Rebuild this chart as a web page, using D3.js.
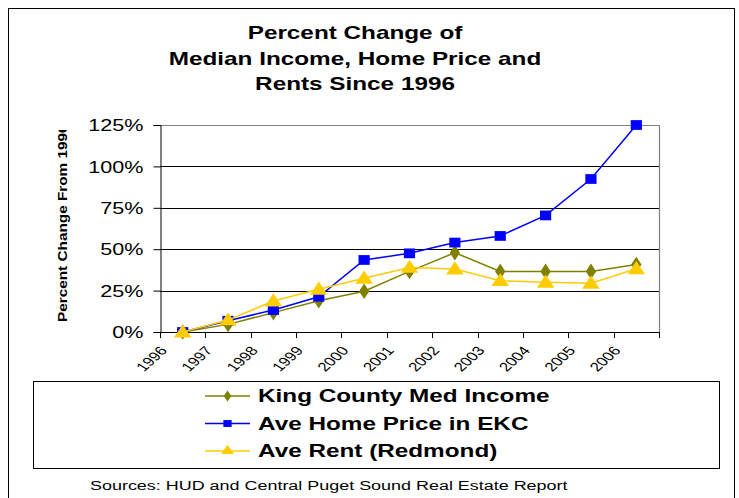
<!DOCTYPE html>
<html lang="en">
<head>
<meta charset="UTF-8">
<title>Percent Change Since 1996</title>
<script src="https://d3js.org/d3.v7.min.js"></script>
<style>
  body { margin: 0; background: #fff; }
  svg text { font-family: "Liberation Sans", Arial, sans-serif; fill: #000; }
  .title { font-size: 18px; font-weight: bold; }
  .ytick text { font-size: 16px; }
  .xtick text { font-size: 12.5px; }
  .legend text { font-size: 18px; font-weight: bold; }
</style>
</head>
<body>
<script>
const years = ["1996","1997","1998","1999","2000","2001","2002","2003","2004","2005","2006"];
const yTicks = [0, 25, 50, 75, 100, 125];
const incomeVals = [0, 4.6, 11.7, 18.9, 24.6, 36.6, 47.9, 36.6, 36.6, 36.6, 40.7];
const homeVals   = [0, 6.8, 13.3, 21.3, 43.5, 47.5, 54, 58, 70.4, 92.4, 125];
const rentVals   = [0, 7.2, 18.7, 25.8, 32.4, 39, 38, 31, 30, 29.4, 38.2];
const seriesNames = ["King County Med Income", "Ave Home Price in EKC", "Ave Rent (Redmond)"];
const titleLines = ["Percent Change of", "Median Income, Home Price and", "Rents Since 1996"];
const yTitle = "Percent Change From 1996";
const sourceText = "Sources:  HUD and Central Puget Sound Real Estate Report";

const W = 739, H = 498;
const plot = { left: 160, right: 659, top: 125, bottom: 332 };
const stretch = 1.35; // the original picture is widened, so text is too

const svg = d3.select("body").append("svg")
  .attr("width", W).attr("height", H);

// outer frame
svg.append("rect")
  .attr("x", 8.5).attr("y", 8.5)
  .attr("width", 726).attr("height", 500)
  .attr("fill", "#fff").attr("stroke", "#000").attr("stroke-width", 1);

// title
svg.append("g").selectAll("text")
  .data(titleLines).enter().append("text")
  .attr("class", "title")
  .attr("transform", (d, i) => `translate(355,${39 + i * 25.5}) scale(${stretch},1)`)
  .attr("text-anchor", "middle")
  .text(d => d);

const x = d3.scaleBand().domain(years).range([plot.left, plot.right]);
const y = d3.scaleLinear().domain([0, 125]).range([plot.bottom, plot.top]);

// gridlines
svg.append("g").selectAll("line")
  .data(yTicks.filter(d => d > 0 && d < 125)).enter().append("line")
  .attr("x1", plot.left).attr("x2", plot.right)
  .attr("y1", d => Math.round(y(d)) + 0.5).attr("y2", d => Math.round(y(d)) + 0.5)
  .attr("stroke", "#000").attr("stroke-width", 1);

// plot border (top, right) in gray
svg.append("path")
  .attr("d", `M${plot.left},${plot.top + 0.5}H${plot.right + 0.5}V${plot.bottom}`)
  .attr("fill", "none").attr("stroke", "#808080").attr("stroke-width", 1.2);

// y axis
const yAxis = svg.append("g")
  .attr("class", "ytick")
  .attr("transform", `translate(${plot.left + 0.5},0)`)
  .call(d3.axisLeft(y).tickValues(yTicks).tickSize(7).tickPadding(10).tickFormat(d => d + "%"));
yAxis.select(".domain").attr("stroke", "#000");
yAxis.selectAll(".tick line").attr("stroke", "#000");
yAxis.selectAll(".tick text")
  .attr("font-size", null).attr("font-family", null)
  .attr("x", -17 / stretch).attr("dy", "0.36em")
  .attr("transform", `scale(${stretch},1)`);

// x axis: ticks between categories, labels at tick positions
const tickPos = years.map(d => x(d)).concat([plot.right]);
const xg = svg.append("g").attr("class", "xtick");
xg.append("line")
  .attr("x1", plot.left).attr("x2", plot.right + 0.5)
  .attr("y1", plot.bottom + 0.5).attr("y2", plot.bottom + 0.5)
  .attr("stroke", "#000");
xg.selectAll(".tk").data(tickPos).enter().append("line")
  .attr("class", "tk")
  .attr("x1", d => Math.round(d) + 0.5).attr("x2", d => Math.round(d) + 0.5)
  .attr("y1", plot.bottom).attr("y2", plot.bottom + 6)
  .attr("stroke", "#000");
xg.selectAll("text").data(years).enter().append("text")
  .attr("text-anchor", "end")
  .attr("transform", d => `translate(${x(d) + 8},${plot.bottom + 19}) scale(${stretch},1) rotate(-50)`)
  .text(d => d);

// y axis title, clipped at the top like the original
svg.append("clipPath").attr("id", "ytclip")
  .append("rect").attr("x", 40).attr("y", 130).attr("width", 40).attr("height", 250);
svg.append("g")
  .attr("clip-path", "url(#ytclip)")
  .append("text")
  .attr("transform", `translate(67,322) rotate(-90) scale(1.18,1)`)
  .attr("font-size", 13).attr("font-weight", "bold")
  .text(yTitle);

// series
const series = [
  { name: seriesNames[0], values: incomeVals, color: "#808000", shape: "diamond" },
  { name: seriesNames[1], values: homeVals, color: "#0000FF", shape: "square" },
  { name: seriesNames[2], values: rentVals, color: "#FFCC00", shape: "triangle" }
];

const symType = { diamond: d3.symbolDiamond, square: d3.symbolSquare, triangle: d3.symbolTriangle };
const symSize = { diamond: 70, square: 95, triangle: 100 };

const line = d3.line()
  .x((d, i) => x(years[i]) + x.bandwidth() / 2)
  .y(d => y(d));

series.forEach(s => {
  const g = svg.append("g");
  g.append("path")
    .datum(s.values)
    .attr("d", line)
    .attr("fill", "none")
    .attr("stroke", s.color)
    .attr("stroke-width", 1.5);
  g.selectAll("path.m").data(s.values).enter().append("path")
    .attr("class", "m")
    .attr("d", d3.symbol().type(symType[s.shape]).size(symSize[s.shape]))
    .attr("transform", (d, i) => `translate(${x(years[i]) + x.bandwidth() / 2},${y(d) + (s.shape === "triangle" ? 1 : 0)}) scale(1.15,1)`)
    .attr("fill", s.color);
});

// legend
const lg = svg.append("g").attr("class", "legend");
lg.append("rect")
  .attr("x", 33.5).attr("y", 381.5).attr("width", 686).attr("height", 87)
  .attr("fill", "#fff").attr("stroke", "#000");
const rowY = [396, 423.5, 451];
series.forEach((s, i) => {
  lg.append("line")
    .attr("x1", 205).attr("x2", 250)
    .attr("y1", rowY[i]).attr("y2", rowY[i])
    .attr("stroke", s.color).attr("stroke-width", 1.5);
  lg.append("path")
    .attr("d", d3.symbol().type(symType[s.shape]).size(symSize[s.shape] * 0.5))
    .attr("transform", `translate(227.5,${rowY[i]}) scale(1.2,1)`)
    .attr("fill", s.color);
  lg.append("text")
    .attr("transform", `translate(258,${rowY[i]}) scale(${stretch},1)`)
    .attr("dy", "0.36em")
    .text(s.name);
});

// sources
svg.append("text")
  .attr("transform", `translate(90,489.5) scale(${stretch},1)`)
  .attr("font-size", 13.3)
  .text(sourceText);
</script>
</body>
</html>
